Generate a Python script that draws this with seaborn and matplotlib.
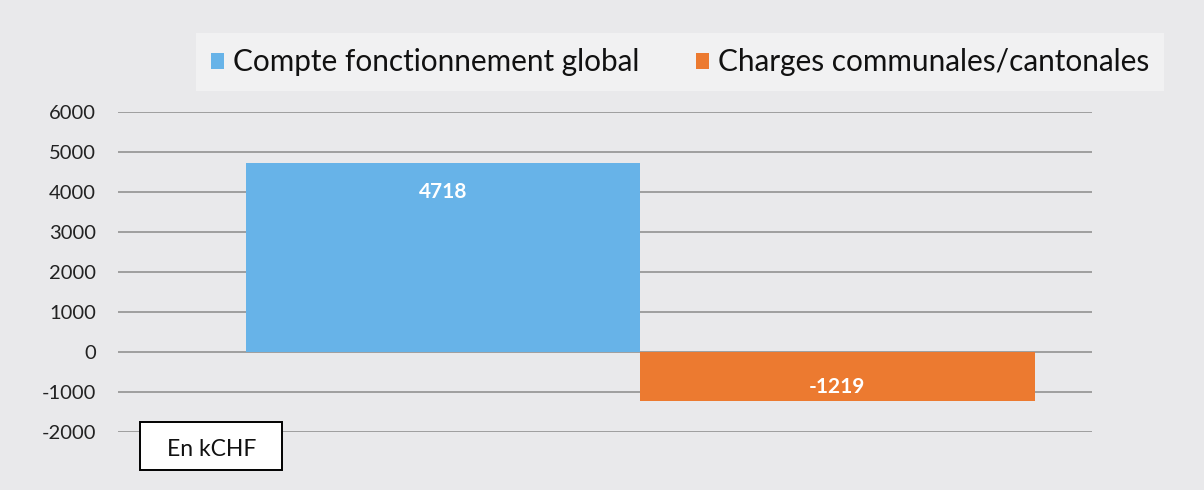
import pandas as pd
import seaborn as sns
from matplotlib import pyplot as plt
from matplotlib.patches import Rectangle

# data (kCHF)
categories = ["Total"]
series = ["Compte fonctionnement global", "Charges communales/cantonales"]
values = [4718, -1219]
y_ticks = [-2000, -1000, 0, 1000, 2000, 3000, 4000, 5000, 6000]

colors = ["#67b3e8", "#ec7a30"]

df = pd.DataFrame({
    "cat": categories * len(series),
    "serie": series,
    "val": values,
})

sns.set_theme(style="white")
plt.rcParams['font.family'] = ['Lato', 'DejaVu Sans']

fig = plt.figure(figsize=(12.04, 4.9), dpi=100, facecolor="#e9e9eb")
ax = fig.add_axes([0.098, 0.118, 0.809, 0.653])
ax.set_facecolor("#e9e9eb")

sns.barplot(data=df, x="cat", y="val", hue="serie", palette=colors,
            width=0.81, dodge=True, saturation=1, linewidth=0, ax=ax)

ax.set_xlim(-0.536, 0.464)
ax.set_ylim(-2000, 6000)
ax.set_yticks(y_ticks)
ax.set_yticklabels([str(t) for t in y_ticks], fontsize=14.5, color="#222222")
ax.set_xticks([])
ax.set_xlabel("")
ax.set_ylabel("")
ax.tick_params(axis="y", length=0, pad=16)
for s in ax.spines.values():
    s.set_visible(False)
ax.yaxis.grid(True, color="#8a8a8a", linewidth=1.1)
ax.set_axisbelow(True)

# value labels in white bold
ax.bar_label(ax.containers[0], padding=-28, color="white",
             fontsize=15, fontweight="bold")
ax.bar_label(ax.containers[1], padding=-17, color="white",
             fontsize=15, fontweight="bold")

sns.move_legend(ax, "center", bbox_to_anchor=(0.565, 0.873),
                bbox_transform=fig.transFigure, ncol=2, title=None,
                frameon=True, fontsize=21.4, handlelength=0.45,
                handleheight=0.45, handletextpad=0.3, columnspacing=1.9,
                borderpad=0.5)
leg = ax.get_legend()
leg.get_frame().set_facecolor("#f4f4f5")
leg.get_frame().set_edgecolor("none")
leg.get_frame().set_boxstyle("square", pad=0)
for t in leg.get_texts():
    t.set_color("#111111")

# unit box bottom left
fig.patches.append(Rectangle((0.1163, 0.0408), 0.118, 0.098,
                             transform=fig.transFigure, facecolor="white",
                             edgecolor="black", linewidth=1.4))
fig.text(0.1755, 0.082, "En kCHF", fontsize=16.5, ha="center", va="center",
         color="#111111")

fig.savefig("out.png", dpi=100, facecolor=fig.get_facecolor())
